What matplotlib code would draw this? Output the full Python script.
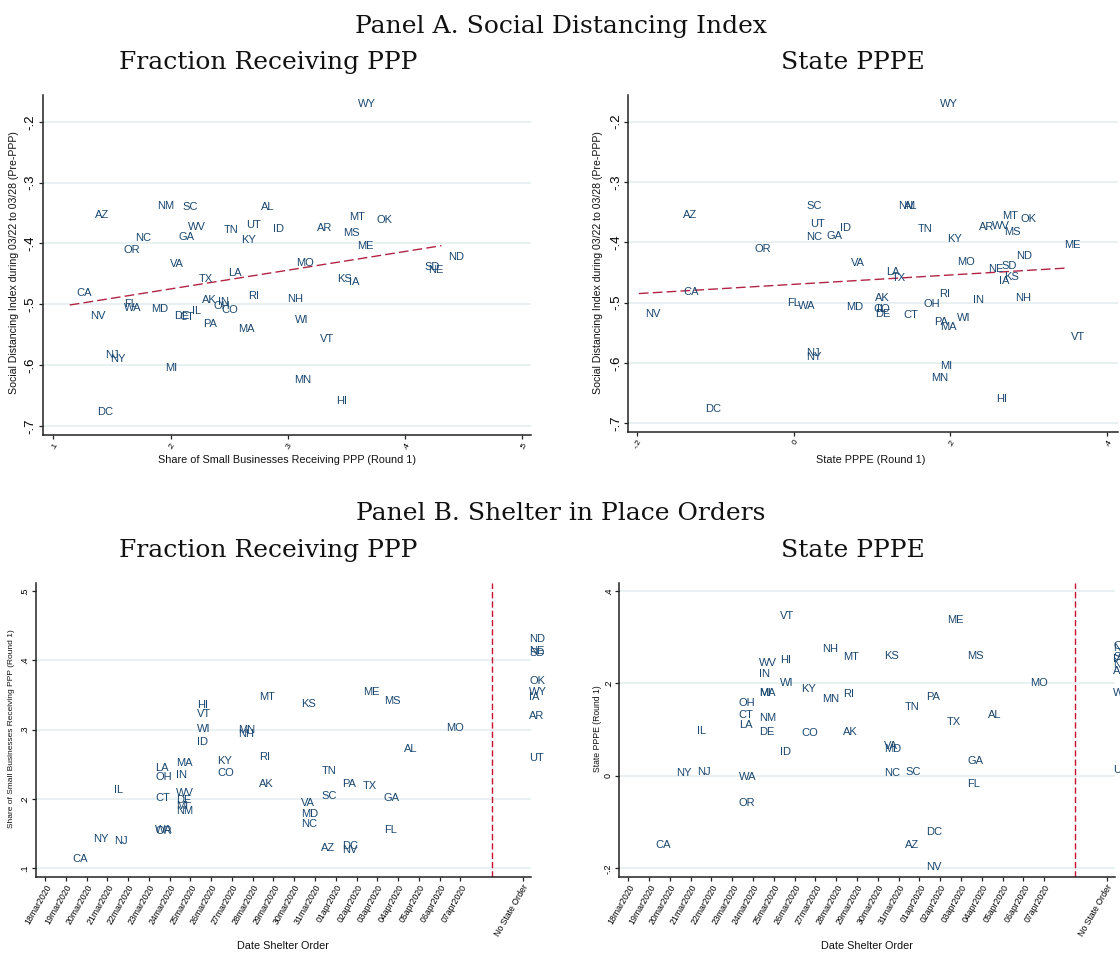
import numpy as np
import pandas as pd
import matplotlib
matplotlib.use('Agg')
import matplotlib.pyplot as plt

# %%
# State level data
states = ['AK', 'AL', 'AR', 'AZ', 'CA', 'CO', 'CT', 'DC', 'DE', 'FL', 'GA', 'HI', 'IA',
          'ID', 'IL', 'IN', 'KS', 'KY', 'LA', 'MA', 'MD', 'ME', 'MI', 'MN', 'MO', 'MS',
          'MT', 'NC', 'ND', 'NE', 'NH', 'NJ', 'NM', 'NV', 'NY', 'OH', 'OK', 'OR', 'PA',
          'RI', 'SC', 'SD', 'TN', 'TX', 'UT', 'VA', 'VT', 'WA', 'WI', 'WV', 'WY']

# social distancing index, 03/22 to 03/28
sdi = [-0.493, -0.340, -0.374, -0.354, -0.482, -0.510, -0.521, -0.677, -0.519, -0.500,
       -0.389, -0.659, -0.464, -0.377, -0.511, -0.496, -0.458, -0.395, -0.449, -0.540,
       -0.508, -0.404, -0.605, -0.625, -0.432, -0.383, -0.357, -0.391, -0.422, -0.444,
       -0.492, -0.583, -0.339, -0.519, -0.590, -0.503, -0.361, -0.411, -0.532, -0.486,
       -0.340, -0.439, -0.378, -0.459, -0.370, -0.434, -0.557, -0.506, -0.526, -0.373,
       -0.171]

# share of small businesses receiving PPP (round 1)
ppp_share = [0.221, 0.272, 0.319, 0.130, 0.114, 0.238, 0.202, 0.132, 0.198, 0.155,
             0.201, 0.336, 0.347, 0.282, 0.213, 0.235, 0.337, 0.255, 0.244, 0.252,
             0.178, 0.354, 0.190, 0.300, 0.302, 0.342, 0.347, 0.164, 0.431, 0.414,
             0.294, 0.139, 0.183, 0.126, 0.143, 0.231, 0.370, 0.154, 0.222, 0.261,
             0.205, 0.411, 0.240, 0.219, 0.259, 0.194, 0.322, 0.155, 0.301, 0.209,
             0.354]

# state PPPE (round 1)
pppe = [0.096, 0.132, 0.228, -0.150, -0.149, 0.093, 0.132, -0.121, 0.096, -0.017,
        0.033, 0.250, 0.254, 0.051, 0.098, 0.221, 0.260, 0.187, 0.110, 0.179,
        0.059, 0.337, 0.179, 0.167, 0.200, 0.260, 0.258, 0.007, 0.276, 0.240,
        0.275, 0.008, 0.125, -0.198, 0.007, 0.158, 0.281, -0.059, 0.171, 0.177,
        0.008, 0.257, 0.150, 0.117, 0.012, 0.065, 0.346, -0.003, 0.200, 0.245,
        0.179]

# date of shelter in place order ('' = no state order)
shelter_date = ['2020-03-28', '2020-04-04', '', '2020-03-31', '2020-03-19', '2020-03-26',
                '2020-03-23', '2020-04-01', '2020-03-24', '2020-04-03', '2020-04-03',
                '2020-03-25', '', '2020-03-25', '2020-03-21', '2020-03-24', '2020-03-30',
                '2020-03-26', '2020-03-23', '2020-03-24', '2020-03-30', '2020-04-02',
                '2020-03-24', '2020-03-27', '2020-04-06', '2020-04-03', '2020-03-28',
                '2020-03-30', '', '', '2020-03-27', '2020-03-21', '2020-03-24',
                '2020-04-01', '2020-03-20', '2020-03-23', '', '2020-03-23', '2020-04-01',
                '2020-03-28', '2020-03-31', '', '2020-03-31', '2020-04-02', '',
                '2020-03-30', '2020-03-25', '2020-03-23', '2020-03-25', '2020-03-24', '']

first_day = '2020-03-18'
last_day = '2020-04-07'
no_order_pos = 23      # slot used for "No State Order"
cutoff_pos = 21.5      # dashed separator

sdi = np.array(sdi)
ppp_share = np.array(ppp_share)
pppe = np.array(pppe)
days = np.array([(pd.Timestamp(d) - pd.Timestamp(first_day)).days if d else no_order_pos
                 for d in shelter_date], dtype=float)

date_labels = [d.strftime('%d%b%Y').lower() for d in pd.date_range(first_day, last_day)]

# %%
W, H = 1120, 958
fig = plt.figure(figsize=(W / 100, H / 100), dpi=100)

SANS = 'Liberation Sans'
SERIF = 'DejaVu Serif'
NAVY = '#1a476f'
GRID = '#e8f0f2'


def px_axes(left, top, right, bottom):
    return fig.add_axes([left / W, 1 - bottom / H, (right - left) / W, (bottom - top) / H])


def px_text(x, y, s, **kw):
    fig.text(x / W, 1 - y / H, s, **kw)


def stata_fmt(v):
    if abs(v) < 1e-9:
        return '0'
    return f'{v:g}'.replace('0.', '.')


def style(ax, yticks, ysize, grid_skip=()):
    for s in ['top', 'right']:
        ax.spines[s].set_visible(False)
    for s in ['left', 'bottom']:
        ax.spines[s].set_color('#222222')
        ax.spines[s].set_linewidth(1.1)
    ax.set_yticks(yticks, [stata_fmt(v) for v in yticks])
    for v in yticks:
        if v not in grid_skip:
            ax.axhline(v, color=GRID, lw=1.4, zorder=0)
    ax.tick_params(direction='out', length=3, width=0.9, color='#222222', pad=1.5)
    ax.tick_params(axis='y', labelrotation=90, labelsize=ysize)
    for t in ax.get_yticklabels():
        t.set_fontfamily(SANS)
        t.set_va('center')


def label_states(ax, x, y):
    for s, xi, yi in zip(states, x, y):
        ax.annotate(s, (xi, yi), xytext=(4.6, 0), textcoords='offset points',
                    ha='left', va='center', fontsize=8, color=NAVY, family=SANS)


def fit_line(ax, x, y):
    b, a = np.polyfit(x, y, 1)
    xs = np.array([x.min(), x.max()])
    ax.plot(xs, a + b * xs, color='#b22445', lw=1.0, ls=(0, (7, 3)))


# %% Panel A, left
ax = px_axes(43, 95, 531, 435)
label_states(ax, ppp_share, sdi)
fit_line(ax, ppp_share, sdi)
ax.set_xlim(0.0912, 0.5074)
ax.set_ylim(-0.715, -0.156)
style(ax, [-0.7, -0.6, -0.5, -0.4, -0.3, -0.2], 9.5)
xt = [0.1, 0.2, 0.3, 0.4, 0.5]
ax.set_xticks(xt, [stata_fmt(v) for v in xt], rotation=60, ha='right',
              rotation_mode='anchor', fontsize=6, family=SANS)

# %% Panel A, right
ax = px_axes(628.3, 95, 1118, 431.7)
label_states(ax, pppe, sdi)
fit_line(ax, pppe, sdi)
ax.set_xlim(-0.2115, 0.414)
ax.set_ylim(-0.714, -0.1557)
style(ax, [-0.7, -0.6, -0.5, -0.4, -0.3, -0.2], 9.5)
xt = [-0.2, 0, 0.2, 0.4]
ax.set_xticks(xt, [stata_fmt(v) for v in xt], rotation=60, ha='right',
              rotation_mode='anchor', fontsize=6, family=SANS)

# %% Panel B, both
date_ticks = list(range(len(date_labels))) + [no_order_pos]
date_ticklabels = date_labels + ['No State Order']

ax = px_axes(35.7, 582.7, 531, 876.7)
label_states(ax, days, ppp_share)
ax.axvline(cutoff_pos, color='#c8102e', lw=1.0, ls=(0, (4.5, 2.2)))
ax.set_xlim(-0.45, 23.4)
ax.set_ylim(0.0879, 0.512)
style(ax, [0.1, 0.2, 0.3, 0.4, 0.5], 6.5, grid_skip=(0.5,))
ax.set_xticks(date_ticks, date_ticklabels, rotation=60, ha='right',
              rotation_mode='anchor', fontsize=6.3, family=SANS)

ax = px_axes(619.3, 582.7, 1115, 876.7)
label_states(ax, days, pppe)
ax.axvline(cutoff_pos, color='#c8102e', lw=1.0, ls=(0, (4.5, 2.2)))
ax.set_xlim(-0.43, 23.4)
ax.set_ylim(-0.218, 0.418)
style(ax, [-0.2, 0, 0.2, 0.4], 6.5)
ax.set_xticks(date_ticks, date_ticklabels, rotation=60, ha='right',
              rotation_mode='anchor', fontsize=6.3, family=SANS)

# %% Titles and axis labels
tkw = dict(ha='center', va='baseline', fontsize=18, family=SERIF, color='#111111')
px_text(561, 33, 'Panel A. Social Distancing Index', **tkw)
px_text(268, 69, 'Fraction Receiving PPP', **tkw)
px_text(853, 69, 'State PPPE', **tkw)
px_text(561, 520, 'Panel B. Shelter in Place Orders', **tkw)
px_text(268, 557, 'Fraction Receiving PPP', **tkw)
px_text(853, 557, 'State PPPE', **tkw)

lkw = dict(ha='center', va='center', family=SANS, color='#111111')
px_text(14, 263, 'Social Distancing Index during 03/22 to 03/28 (Pre-PPP)',
        rotation=90, fontsize=7.6, **lkw)
px_text(598, 263, 'Social Distancing Index during 03/22 to 03/28 (Pre-PPP)',
        rotation=90, fontsize=7.6, **lkw)
px_text(287, 460, 'Share of Small Businesses Receiving PPP (Round 1)', fontsize=7.8, **lkw)
px_text(871, 460, 'State PPPE (Round 1)', fontsize=7.8, **lkw)
px_text(12, 729, 'Share of Small Businesses Receiving PPP (Round 1)',
        rotation=90, fontsize=6, **lkw)
px_text(597, 729, 'State PPPE (Round 1)', rotation=90, fontsize=6.2, **lkw)
px_text(283, 946, 'Date Shelter Order', fontsize=7.8, **lkw)
px_text(867, 946, 'Date Shelter Order', fontsize=7.8, **lkw)

fig.savefig('out.png', dpi=100)
